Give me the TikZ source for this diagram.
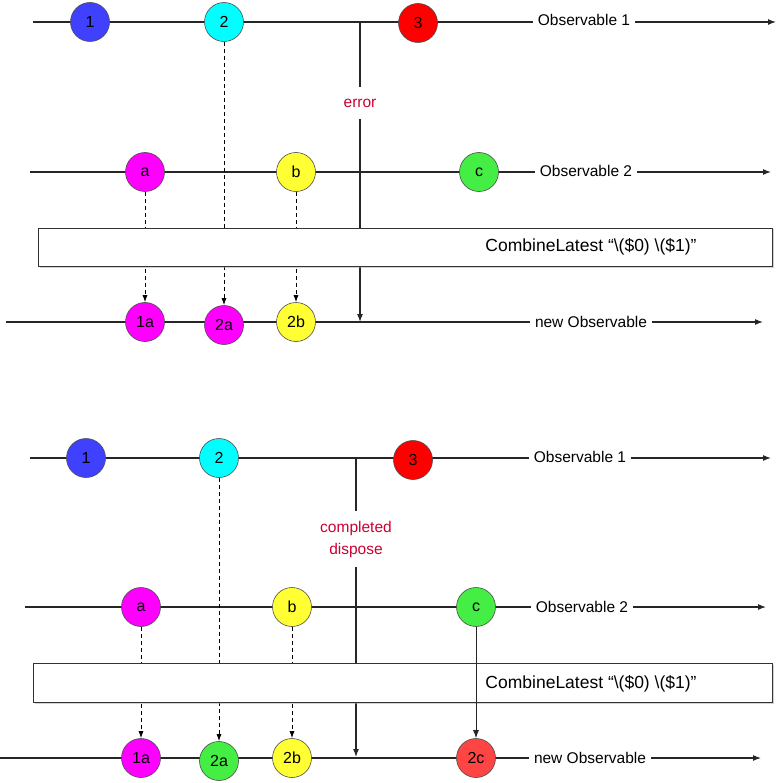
\documentclass[tikz,border=0pt]{standalone}
\usepackage{fontspec}
\setmainfont{Liberation Sans}
\usepackage{tikz}
\usetikzlibrary{arrows.meta, shadows}

\definecolor{evblue}{RGB}{64,64,255}
\definecolor{evcyan}{RGB}{0,255,255}
\definecolor{evred}{RGB}{255,0,0}
\definecolor{evmagenta}{RGB}{255,0,255}
\definecolor{evyellow}{RGB}{255,255,51}
\definecolor{evgreen}{RGB}{68,238,68}
\definecolor{evlightred}{RGB}{255,68,68}
\definecolor{errred}{RGB}{204,0,51}

\begin{document}
\begin{tikzpicture}[x=1pt, y=-1pt,
  timeline/.style={draw=black!85, line width=1.1pt},
  flow/.style={timeline, -{Latex[length=8pt,width=6pt]}},
  event/.style={circle, draw=black!70, line width=0.6pt, minimum size=39pt, inner sep=0pt, font=\fontsize{16}{18}\selectfont},
  streamlbl/.style={fill=white, inner xsep=5pt, font=\fontsize{15.5}{18}\selectfont},
  endlbl/.style={text=errred, align=center, inner ysep=10pt, font=\fontsize{15.5}{22}\selectfont},
  copyarrow/.style={draw=black, line width=0.9pt, dash pattern=on 4pt off 3pt, -{Latex[length=7pt,width=5pt]}},
  combbox/.style={draw=black!80, fill=white, line width=0.8pt, inner sep=0pt, drop shadow={shadow xshift=1.5pt, shadow yshift=-1.5pt, fill=black!35}},
  combtext/.style={font=\fontsize{17.5}{20}\selectfont}
]
  \useasboundingbox (0,0) rectangle (778,783);

  % upper panel: error
  \coordinate (ua1) at (33,22);   \coordinate (ua2) at (776,22);
  \coordinate (ub1) at (30,172);  \coordinate (ub2) at (771,172);
  \coordinate (uc1) at (6,322);   \coordinate (uc2) at (763,322);
  \draw[flow] (ua1) -- (ua2);
  \draw[flow] (ub1) -- (ub2);
  \draw[flow] (uc1) -- (uc2);

  \node[event, fill=evblue] (u1) at (90,22) {1};
  \node[event, fill=evcyan] (u2) at (224,22) {2};
  \node[event, fill=evred] (u3) at (418,23) {3};
  \node[streamlbl] (uobs1) at (584,20) {Observable 1};

  \node[event, fill=evmagenta] (ua) at (145,172) {a};
  \node[event, fill=evyellow] (ub) at (296,172) {b};
  \node[event, fill=evgreen] (uc) at (479,172) {c};
  \node[streamlbl] (uobs2) at (586,171) {Observable 2};

  \node[event, fill=evmagenta] (u1a) at (145,322) {1a};
  \node[event, fill=evmagenta] (u2a) at (224,325) {2a};
  \node[event, fill=evyellow] (u2b) at (296,322) {2b};
  \node[streamlbl] (unew) at (591,322) {new Observable};

  \coordinate (uerrtop) at (360,22);
  \coordinate (uerrbot) at (360,322);
  \node[endlbl, inner ysep=12pt] (uerr) at (360,103) {error};
  \draw[timeline] (uerrtop) -- (uerr);
  \draw[flow] (uerr) -- (uerrbot);

  \draw[copyarrow] (ua) -- (u1a);
  \draw[copyarrow] (u2) -- (u2a);
  \draw[copyarrow] (ub) -- (u2b);

  \node[combbox, minimum width=734pt, minimum height=38pt] (ucomb) at (405,247) {};
  \node[combtext] (ucombtxt) at (591,247) {CombineLatest “\textbackslash(\$0) \textbackslash(\$1)”};

  % lower panel: completed
  \coordinate (la1) at (30,458);  \coordinate (la2) at (771,458);
  \coordinate (lb1) at (25,607);  \coordinate (lb2) at (766,607);
  \coordinate (lc1) at (0,758);   \coordinate (lc2) at (761,758);
  \draw[flow] (la1) -- (la2);
  \draw[flow] (lb1) -- (lb2);
  \draw[flow] (lc1) -- (lc2);

  \node[event, fill=evblue] (l1) at (86,458) {1};
  \node[event, fill=evcyan] (l2) at (219,458) {2};
  \node[event, fill=evred] (l3) at (413,460) {3};
  \node[streamlbl] (lobs1) at (580,457) {Observable 1};

  \node[event, fill=evmagenta] (la) at (141,607) {a};
  \node[event, fill=evyellow] (lb) at (292,607) {b};
  \node[event, fill=evgreen] (lc) at (476,607) {c};
  \node[streamlbl] (lobs2) at (582,607) {Observable 2};

  \node[event, fill=evmagenta] (l1a) at (141,758) {1a};
  \node[event, fill=evgreen] (l2a) at (219,761) {2a};
  \node[event, fill=evyellow] (l2b) at (292,758) {2b};
  \node[event, fill=evlightred] (l2c) at (476,758) {2c};
  \node[streamlbl] (lnew) at (590,758) {new Observable};

  \coordinate (ldonetop) at (356,458);
  \coordinate (ldonebot) at (356,757);
  \node[endlbl] (ldone) at (356,539) {completed\\dispose};
  \draw[timeline] (ldonetop) -- (ldone);
  \draw[flow] (ldone) -- (ldonebot);

  \draw[copyarrow] (la) -- (l1a);
  \draw[copyarrow] (l2) -- (l2a);
  \draw[copyarrow] (lb) -- (l2b);

  \node[combbox, minimum width=739pt, minimum height=39pt] (lcomb) at (402.5,682.5) {};
  \node[combtext] (lcombtxt) at (591,684) {CombineLatest “\textbackslash(\$0) \textbackslash(\$1)”};

  \draw[flow, line width=0.9pt] (lc) -- (l2c);
\end{tikzpicture}
\end{document}
